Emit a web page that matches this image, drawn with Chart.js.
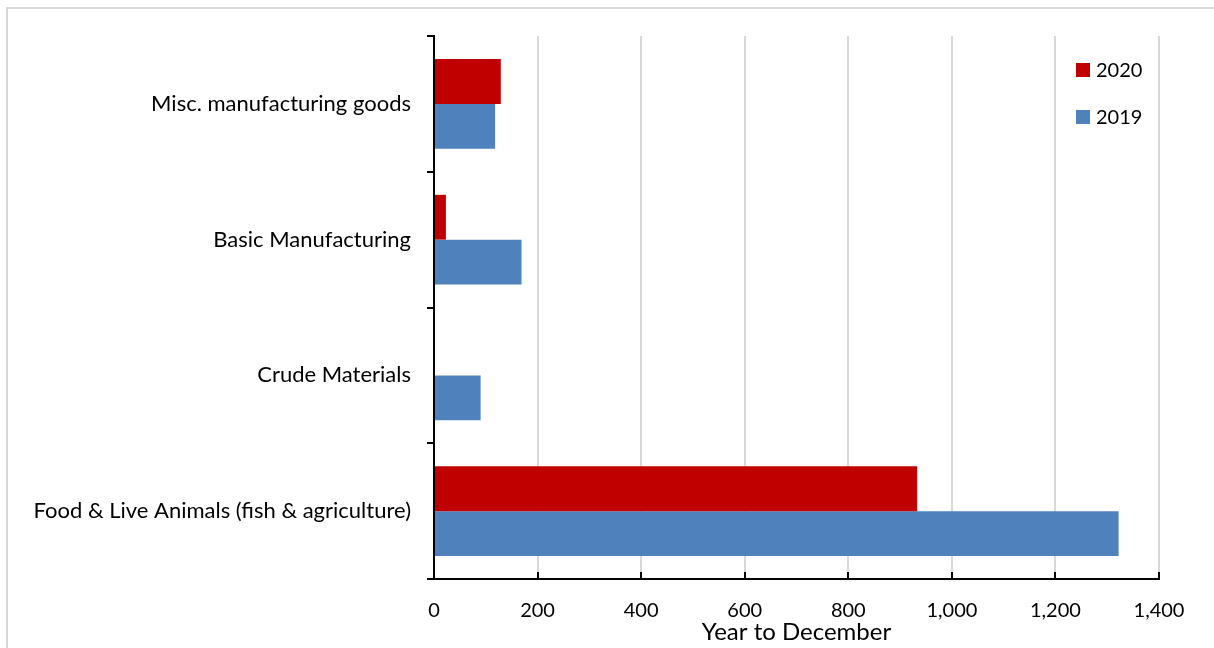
<!DOCTYPE html>
<html>
<head>
<meta charset="utf-8">
<script src="https://cdn.jsdelivr.net/npm/chart.js@4.4.1/dist/chart.umd.min.js"></script>
<style>
  html, body { margin: 0; padding: 0; background: #fff; overflow: hidden; }
  #wrap { position: relative; width: 1214px; height: 648px; }
  #frame { position: absolute; left: 6px; top: 7px; width: 1230px; height: 660px; border: 2px solid #d9d9d9; box-sizing: border-box; }
  canvas { position: absolute; left: 0; top: 0; }
</style>
</head>
<body>
<div id="wrap">
  <div id="frame"></div>
  <canvas id="myChart" width="1214" height="648"></canvas>
</div>
<script>
    // export categories (top to bottom) and values per year
    var categories = ['Misc. manufacturing goods', 'Basic Manufacturing', 'Crude Materials', 'Food & Live Animals (fish & agriculture)'];
    var values_2020 = [129, 23, 0, 933];
    var values_2019 = [118, 169, 90, 1322];
    var x_ticks = [0, 200, 400, 600, 800, 1000, 1200, 1400];

    Chart.defaults.font.family = 'Lato';
    Chart.defaults.color = '#000';

    // small inward tick marks on the x axis
    var innerTicks = {
      id: 'innerTicks',
      afterDatasetsDraw: function (chart) {
        var ctx = chart.ctx, x = chart.scales.x, bottom = chart.chartArea.bottom;
        ctx.save();
        ctx.strokeStyle = '#000';
        ctx.lineWidth = 2;
        x.ticks.forEach(function (t) {
          var px = Math.round(x.getPixelForValue(t.value));
          ctx.beginPath();
          ctx.moveTo(px, bottom - 7);
          ctx.lineTo(px, bottom);
          ctx.stroke();
        });
        ctx.restore();
      }
    };

    // legend drawn inside the plot, top right
    var boxLegend = {
      id: 'boxLegend',
      afterDraw: function (chart) {
        var ctx = chart.ctx, area = chart.chartArea;
        ctx.save();
        ctx.font = '20px Lato';
        ctx.textBaseline = 'middle';
        chart.data.datasets.forEach(function (ds, i) {
          var y = area.top + 34 + i * 47;
          var x = area.right - 83;
          ctx.fillStyle = ds.backgroundColor;
          ctx.fillRect(x, y - 7, 14, 14);
          ctx.fillStyle = '#000';
          ctx.fillText(ds.label, x + 20, y + 1);
        });
        ctx.restore();
      }
    };

    var ctx = document.getElementById('myChart');
    var myChart = new Chart(ctx, {
      type: 'bar',
      data: {
        labels: categories,
        datasets: [{
          label: '2020',
          data: values_2020,
          backgroundColor: '#c00000',
          borderWidth: 0
        }, {
          label: '2019',
          data: values_2019,
          backgroundColor: '#4f81bd',
          borderWidth: 0
        }]
      },
      options: {
        indexAxis: 'y',
        responsive: false,
        animation: false,
        layout: { padding: { left: 0, top: 36, right: 55, bottom: 0 } },
        datasets: { bar: { categoryPercentage: 0.66, barPercentage: 1 } },
        plugins: {
          legend: { display: false },
          tooltip: { enabled: false }
        },
        scales: {
          x: {
            min: 0,
            max: 1400,
            afterBuildTicks: function (scale) {
              scale.ticks = x_ticks.map(function (v) { return { value: v }; });
            },
            afterFit: function (scale) { scale.height = 69; },
            grid: { color: '#d9d9d9', lineWidth: 2, drawTicks: false },
            border: { color: '#000', width: 2 },
            ticks: {
              padding: 20,
              font: { size: 20 },
              callback: function (v) { return v.toLocaleString('en-US'); }
            },
            title: {
              display: true,
              text: 'Year to December',
              font: { size: 24 },
              padding: { top: 0, bottom: 1 }
            }
          },
          y: {
            afterFit: function (scale) { scale.width = 434; },
            grid: { drawOnChartArea: false, drawTicks: true, tickLength: 7, color: '#000', lineWidth: 2 },
            border: { color: '#000', width: 2 },
            ticks: { padding: 16, font: { size: 22 } }
          }
        }
      },
      plugins: [innerTicks, boxLegend]
    });
</script>
</body>
</html>
